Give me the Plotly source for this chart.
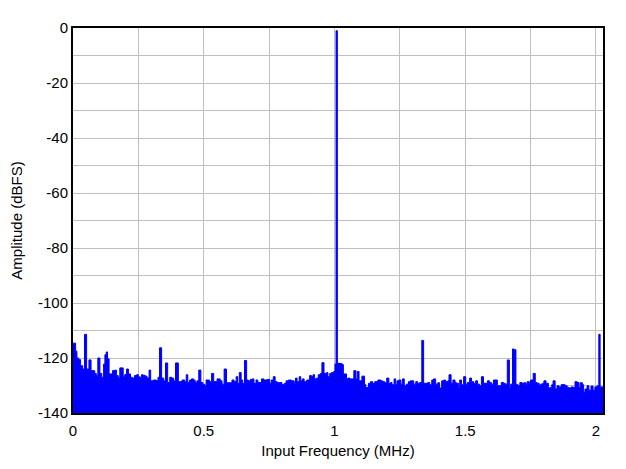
import plotly.graph_objects as go

# FFT spectrum (step-wise bins, MHz / dBFS)
freq_mhz = [
    0.000, 0.010, 0.015, 0.022, 0.029, 0.037, 0.044, 0.052, 0.061, 0.069,
    0.083, 0.089, 0.095, 0.103, 0.110, 0.117, 0.122, 0.127, 0.132, 0.138,
    0.151, 0.159, 0.166, 0.173, 0.179, 0.192, 0.198, 0.205, 0.212, 0.220,
    0.227, 0.235, 0.243, 0.250, 0.255, 0.262, 0.268, 0.276, 0.283, 0.291,
    0.297, 0.307, 0.319, 0.325, 0.331, 0.339, 0.347, 0.354, 0.362, 0.370,
    0.377, 0.385, 0.392, 0.403, 0.417, 0.427, 0.433, 0.439, 0.446, 0.453,
    0.461, 0.467, 0.474, 0.481, 0.489, 0.496, 0.503, 0.509, 0.522, 0.530,
    0.538, 0.551, 0.563, 0.570, 0.578, 0.587, 0.608, 0.616, 0.624, 0.630,
    0.636, 0.643, 0.649, 0.656, 0.664, 0.670, 0.678, 0.686, 0.692, 0.700,
    0.707, 0.721, 0.730, 0.742, 0.752, 0.758, 0.766, 0.773, 0.781, 0.789,
    0.799, 0.808, 0.815, 0.824, 0.835, 0.846, 0.851, 0.857, 0.865, 0.871,
    0.877, 0.884, 0.894, 0.905, 0.912, 0.918, 0.924, 0.931, 0.938, 0.946,
    0.952, 0.960, 0.970, 0.975, 0.982, 0.989, 0.997, 1.002, 1.006, 1.011,
    1.019, 1.029, 1.034, 1.046, 1.051, 1.059, 1.074, 1.082, 1.087, 1.094,
    1.105, 1.115, 1.120, 1.130, 1.138, 1.146, 1.154, 1.166, 1.177, 1.184,
    1.192, 1.200, 1.208, 1.215, 1.220, 1.228, 1.234, 1.239, 1.246, 1.254,
    1.260, 1.267, 1.275, 1.283, 1.290, 1.295, 1.303, 1.311, 1.318, 1.326,
    1.334, 1.341, 1.357, 1.364, 1.372, 1.379, 1.387, 1.395, 1.402, 1.410,
    1.418, 1.425, 1.433, 1.438, 1.446, 1.453, 1.461, 1.466, 1.474, 1.479,
    1.486, 1.494, 1.502, 1.509, 1.517, 1.524, 1.532, 1.540, 1.547, 1.555,
    1.562, 1.570, 1.585, 1.593, 1.600, 1.608, 1.623, 1.638, 1.646, 1.653,
    1.661, 1.669, 1.674, 1.681, 1.686, 1.694, 1.702, 1.709, 1.717, 1.724,
    1.732, 1.737, 1.745, 1.750, 1.760, 1.768, 1.775, 1.783, 1.788, 1.796,
    1.801, 1.809, 1.818, 1.824, 1.831, 1.836, 1.844, 1.851, 1.859, 1.867,
    1.882, 1.890, 1.897, 1.905, 1.912, 1.920, 1.928, 1.935, 1.940, 1.948,
    1.953, 1.958, 1.966, 1.973, 1.981, 1.989, 1.996, 2.004, 2.011, 2.016,
    2.027,
]
amp_dbfs = [
    -114.6, -117.5, -120.0, -120.6, -122.8, -124.0, -111.4, -124.0, -120.7, -124.6,
    -125.6, -126.4, -120.0, -125.6, -127.0, -122.2, -118.8, -117.8, -120.3, -125.8,
    -124.6, -124.4, -126.4, -127.3, -123.6, -126.8, -126.0, -124.0, -125.8, -127.0,
    -127.3, -126.4, -126.1, -126.8, -127.0, -126.1, -126.3, -126.6, -127.3, -124.4,
    -128.3, -128.0, -128.3, -127.0, -116.3, -127.3, -128.3, -121.8, -128.9, -127.0,
    -127.3, -128.3, -121.8, -128.6, -128.0, -128.6, -126.1, -128.9, -128.0, -127.6,
    -128.0, -128.9, -128.3, -124.4, -128.9, -129.5, -130.1, -128.0, -128.6, -125.6,
    -128.6, -127.6, -128.3, -129.5, -124.0, -129.0, -128.0, -128.6, -126.8, -129.2,
    -125.3, -128.0, -129.2, -120.9, -128.0, -128.3, -127.8, -127.6, -129.2, -128.0,
    -128.9, -127.6, -128.0, -127.8, -129.2, -128.0, -126.8, -128.6, -129.0, -128.9,
    -129.7, -129.2, -128.3, -128.0, -128.3, -129.2, -127.3, -128.6, -126.8, -128.3,
    -127.6, -128.6, -128.0, -126.4, -126.8, -126.1, -127.6, -127.3, -126.1, -125.6,
    -121.7, -125.6, -125.3, -126.8, -125.6, -125.3, -124.9, -122.2, -1.0, -121.9,
    -122.0, -122.4, -125.8, -127.6, -127.3, -127.6, -124.6, -127.6, -124.9, -128.3,
    -126.6, -129.7, -130.7, -129.2, -128.6, -129.2, -128.6, -128.0, -128.3, -128.6,
    -129.0, -127.3, -129.2, -128.9, -129.7, -127.6, -129.7, -128.3, -128.0, -129.5,
    -127.6, -130.1, -129.5, -128.6, -128.3, -128.3, -129.5, -128.6, -129.2, -128.9,
    -113.6, -129.2, -128.9, -129.7, -128.0, -127.6, -129.5, -129.0, -130.9, -128.3,
    -128.0, -128.6, -128.3, -126.1, -129.2, -128.0, -128.9, -129.2, -130.7, -128.0,
    -129.7, -126.8, -129.5, -128.9, -127.3, -128.6, -129.2, -128.3, -129.5, -130.1,
    -126.8, -129.2, -128.3, -128.9, -129.5, -128.0, -130.1, -128.9, -129.2, -129.5,
    -120.7, -130.7, -129.5, -116.7, -117.0, -129.7, -130.1, -128.9, -129.2, -129.0,
    -129.5, -128.6, -129.2, -128.0, -125.6, -128.9, -129.2, -130.1, -129.5, -129.2,
    -128.3, -129.2, -130.9, -130.7, -129.7, -128.3, -131.3, -130.1, -130.5, -129.7,
    -130.1, -130.7, -130.9, -130.5, -130.7, -128.6, -128.9, -130.7, -129.0, -129.7,
    -132.5, -131.3, -130.1, -131.7, -130.2, -131.7, -130.5, -130.1, -111.4, -130.5,
    -130.5,
]

x_ticks = [0, 0.5, 1, 1.5, 2]
x_labels = ['0', '0.5', '1', '1.5', '2']
y_ticks = [0, -20, -40, -60, -80, -100, -120, -140]
y_labels = ['0', '-20', '-40', '-60', '-80', '-100', '-120', '-140']

x_range = [0, 2.027]
y_range = [-140, 0]

fig = go.Figure()

# floor of the fill, at the bottom of the y axis
fig.add_trace(go.Scatter(
    x=[freq_mhz[0], freq_mhz[-1]], y=[y_range[0], y_range[0]],
    mode='lines', line=dict(width=0, color='rgba(0,0,0,0)'),
    hoverinfo='skip', showlegend=False,
))

fig.add_trace(go.Scatter(
    x=freq_mhz, y=amp_dbfs,
    mode='lines', line=dict(color='#0000FF', width=1, shape='hv'),
    fill='tonexty', fillcolor='#0000FF',
    showlegend=False,
))

axis_font = dict(family='Liberation Sans, Arial, sans-serif', size=15, color='black')
grid = '#C0C0C0'

# page body adds 8px, so margins are shifted by that much
fig.update_layout(
    width=626, height=469,
    margin=dict(l=65, r=31, t=20, b=64),
    paper_bgcolor='white', plot_bgcolor='white',
    font=axis_font,
    xaxis=dict(
        range=x_range, tickvals=x_ticks, ticktext=x_labels,
        showgrid=True, gridcolor=grid, gridwidth=1,
        minor=dict(dtick=0.25, tick0=0, showgrid=True, gridcolor=grid, gridwidth=1),
        showline=True, linecolor='black', linewidth=2, mirror=True,
        zeroline=False, ticks='', ticklabelstandoff=3, automargin=False,
        title=dict(text='Input Frequency (MHz)', font=axis_font, standoff=7),
    ),
    yaxis=dict(
        range=y_range, tickvals=y_ticks, ticktext=y_labels,
        showgrid=True, gridcolor=grid, gridwidth=1,
        minor=dict(dtick=10, tick0=0, showgrid=True, gridcolor=grid, gridwidth=1),
        showline=True, linecolor='black', linewidth=2, mirror=True,
        zeroline=False, ticks='', automargin=False,
        title=dict(text='Amplitude (dBFS)', font=axis_font, standoff=16),
    ),
)

fig.write_html("out.html")
